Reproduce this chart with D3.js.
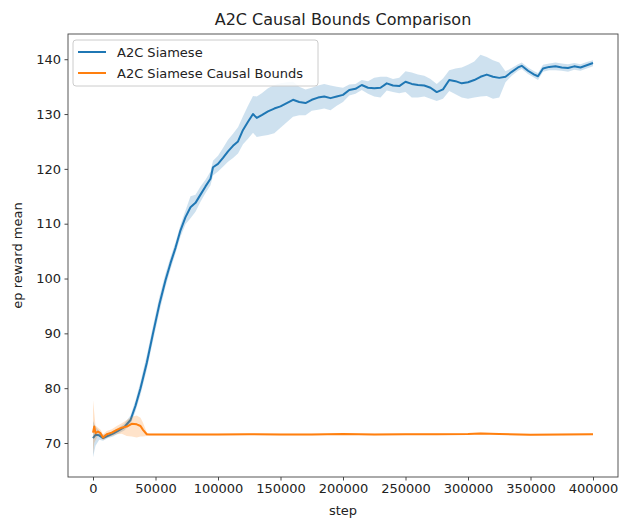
<!DOCTYPE html>
<html lang="en">

<head>
    <meta charset="UTF-8">
    <title>A2C Causal Bounds Comparison</title>
    <script src="https://cdn.jsdelivr.net/npm/d3@7"></script>
</head>
<style>
    * {
        margin: 0;
        padding: 0;
    }

    body {
        background: #fff;
    }

    text {
        font-family: "DejaVu Sans", sans-serif;
    }
</style>

<body>
    <svg></svg>
</body>

</html>
<script>
    // tick labels
    const xTicks = [0, 50000, 100000, 150000, 200000, 250000, 300000, 350000, 400000];
    const yTicks = [70, 80, 90, 100, 110, 120, 130, 140];

    // A2C Siamese (blue)
    const blueSteps = [0, 2000, 5000, 8000, 12000, 16000, 20000, 25000, 30000, 34000, 38000, 43000, 48000, 53000, 58000, 62000, 66000, 70000, 74000, 78000,
        82000, 86000, 90000, 94000, 96000, 100000, 104000, 108000, 112000, 116000, 120000, 124000, 128000, 131000, 135000, 140000, 145000, 150000, 155000, 160000,
        165000, 170000, 175000, 180000, 185000, 190000, 195000, 200000, 205000, 210000, 215000, 220000, 225000, 230000, 235000, 240000, 245000, 250000, 255000, 260000,
        265000, 270000, 275000, 280000, 285000, 290000, 295000, 300000, 305000, 310000, 315000, 320000, 325000, 330000, 335000, 340000, 343000, 348000, 353000, 356000,
        360000, 365000, 370000, 375000, 380000, 385000, 390000, 395000, 400000];
    const blueMean = [70.9, 71.5, 71.4, 70.9, 71.3, 71.7, 72.2, 72.9, 74.2, 76.8, 80.0, 84.6, 90.0, 95.2, 99.7, 102.8, 105.6, 108.8, 111.2, 113.0,
        113.8, 115.3, 116.8, 118.2, 120.3, 120.9, 122.0, 123.2, 124.2, 125.0, 127.1, 128.6, 130.0, 129.3, 129.8, 130.5, 131.0, 131.4, 132.0, 132.6,
        132.2, 132.0, 132.6, 133.0, 133.2, 132.9, 133.2, 133.5, 134.4, 134.6, 135.3, 134.8, 134.7, 134.8, 135.6, 135.2, 135.1, 135.9, 135.5, 135.3,
        135.2, 134.8, 134.0, 134.5, 136.2, 136.0, 135.6, 135.8, 136.2, 136.8, 137.2, 136.8, 136.6, 136.8, 137.7, 138.5, 138.8, 137.9, 137.2, 136.9,
        138.3, 138.6, 138.7, 138.5, 138.4, 138.7, 138.5, 138.9, 139.3];
    const blueLo = [67.4, 69.5, 70.6, 70.4, 70.9, 71.2, 71.7, 72.3, 73.4, 75.8, 78.8, 83.3, 88.6, 93.8, 98.5, 101.7, 104.6, 107.6, 109.9, 111.0,
        112.2, 114.0, 115.6, 117.0, 118.8, 119.5, 120.4, 121.3, 122.0, 122.8, 124.5, 125.5, 126.6, 125.8, 126.0, 126.2, 126.5, 127.5, 128.5, 129.5,
        129.8, 129.8, 130.6, 130.8, 131.0, 130.7, 131.5, 132.2, 133.4, 133.7, 134.4, 133.7, 133.2, 133.0, 134.3, 134.0, 133.8, 134.0, 133.0, 133.0,
        133.2, 132.8, 132.4, 132.8, 134.2, 133.6, 133.0, 132.8, 133.0, 133.2, 133.3, 132.8, 133.0, 135.8, 137.0, 137.9, 138.2, 137.3, 136.6, 136.2,
        137.7, 138.0, 138.0, 137.9, 137.7, 138.1, 137.9, 138.3, 138.7];
    const blueHi = [74.0, 73.0, 72.2, 71.5, 71.8, 72.2, 72.7, 73.5, 75.0, 77.8, 81.2, 86.0, 91.4, 96.6, 100.9, 103.9, 106.6, 109.8, 112.4, 115.0,
        115.3, 116.8, 118.0, 119.5, 121.5, 122.4, 123.8, 125.3, 126.4, 127.6, 129.6, 131.5, 133.3, 133.2, 133.8, 134.7, 135.3, 135.6, 135.8, 135.9,
        135.0, 134.5, 134.8, 135.2, 135.5, 135.2, 135.0, 134.8, 135.4, 135.5, 136.2, 136.0, 136.6, 136.8, 136.8, 136.4, 136.6, 137.8, 137.6, 137.2,
        137.0, 136.4, 135.5, 136.5, 138.0, 138.3, 138.5, 139.0, 139.6, 140.8, 140.4, 139.8, 139.4, 137.8, 138.4, 139.1, 139.4, 138.5, 137.8, 137.5,
        139.0, 139.2, 139.4, 139.2, 139.1, 139.3, 139.1, 139.5, 139.8];

    // A2C Siamese Causal Bounds (orange)
    const orangeSteps = [0, 1000, 2000, 4000, 6000, 8000, 11000, 15000, 19000, 23000, 27000, 31000, 35000, 38000, 40000, 43000, 45000,
        50000, 75000, 100000, 125000, 150000, 175000, 200000, 225000, 250000, 275000, 300000, 310000, 325000, 350000, 375000, 400000];
    const orangeMean = [71.9, 73.0, 71.8, 72.1, 71.8, 71.0, 71.6, 71.9, 72.4, 72.8, 73.0, 73.5, 73.4, 73.1, 72.4, 71.6, 71.55,
        71.55, 71.55, 71.55, 71.6, 71.55, 71.55, 71.65, 71.55, 71.6, 71.6, 71.65, 71.75, 71.65, 71.5, 71.55, 71.6];
    const orangeLo = [68.0, 70.0, 70.5, 71.4, 71.2, 70.5, 71.0, 71.3, 71.6, 71.7, 71.3, 71.2, 71.0, 71.2, 71.2, 71.3, 71.4,
        71.42, 71.42, 71.42, 71.47, 71.42, 71.42, 71.52, 71.42, 71.47, 71.47, 71.52, 71.6, 71.52, 71.37, 71.42, 71.47];
    const orangeHi = [77.8, 75.5, 73.2, 72.8, 72.4, 71.6, 72.2, 72.5, 73.1, 73.6, 74.2, 74.8, 75.0, 74.6, 73.7, 71.9, 71.7,
        71.68, 71.68, 71.68, 71.73, 71.68, 71.68, 71.78, 71.68, 71.73, 71.73, 71.78, 71.9, 71.78, 71.63, 71.68, 71.73];

    const width = 628;
    const height = 519;
    const margin = { left: 68, top: 34, right: 10, bottom: 42 };
    const svg = d3.select('svg').attr('width', width).attr('height', height);

    const xScale = d3.scaleLinear()
        .domain([-20000, 420000])
        .range([margin.left, width - margin.right]);
    const yScale = d3.scaleLinear()
        .domain([63.8, 144.6])
        .range([height - margin.bottom, margin.top]);

    const series = [
        { name: 'A2C Siamese', color: '#1f77b4', steps: blueSteps, mean: blueMean, lo: blueLo, hi: blueHi },
        { name: 'A2C Siamese Causal Bounds', color: '#ff7f0e', steps: orangeSteps, mean: orangeMean, lo: orangeLo, hi: orangeHi }
    ];

    const area = d3.area()
        .x(d => xScale(d.s))
        .y0(d => yScale(d.lo))
        .y1(d => yScale(d.hi));
    const line = d3.line()
        .x(d => xScale(d.s))
        .y(d => yScale(d.m));

    const plot = svg.append('g');
    series.forEach(sr => {
        const rows = sr.steps.map((s, i) => ({ s: s, m: sr.mean[i], lo: sr.lo[i], hi: sr.hi[i] }));
        plot.append('path')
            .datum(rows)
            .attr('d', area)
            .attr('fill', sr.color)
            .attr('fill-opacity', 0.22);
        plot.append('path')
            .datum(rows)
            .attr('d', line)
            .attr('fill', 'none')
            .attr('stroke', sr.color)
            .attr('stroke-width', 2)
            .attr('stroke-linejoin', 'round');
    });

    // axes
    const xAxis = svg.append('g')
        .attr('transform', `translate(0,${height - margin.bottom})`)
        .call(d3.axisBottom(xScale).tickValues(xTicks).tickFormat(d3.format('d')).tickSize(3.5).tickPadding(3.5));
    const yAxis = svg.append('g')
        .attr('transform', `translate(${margin.left},0)`)
        .call(d3.axisLeft(yScale).tickValues(yTicks).tickSize(3.5).tickPadding(3.5));
    [xAxis, yAxis].forEach(ax => {
        ax.select('.domain').remove();
        ax.selectAll('text').attr('font-size', 13).attr('fill', '#222').style('font-family', '"DejaVu Sans", sans-serif');
        ax.selectAll('line').attr('stroke', '#333').attr('stroke-width', 0.9);
    });

    // frame
    svg.append('rect')
        .attr('x', margin.left)
        .attr('y', margin.top)
        .attr('width', width - margin.left - margin.right)
        .attr('height', height - margin.top - margin.bottom)
        .attr('fill', 'none')
        .attr('stroke', '#444')
        .attr('stroke-width', 0.9);

    // titles
    const cx = (margin.left + width - margin.right) / 2;
    svg.append('text')
        .attr('x', cx).attr('y', 25)
        .attr('text-anchor', 'middle')
        .attr('font-size', 16)
        .attr('fill', '#222')
        .text('A2C Causal Bounds Comparison');
    svg.append('text')
        .attr('x', cx).attr('y', 515)
        .attr('text-anchor', 'middle')
        .attr('font-size', 13)
        .attr('fill', '#222')
        .text('step');
    svg.append('text')
        .attr('transform', `translate(22,${(margin.top + height - margin.bottom) / 2}) rotate(-90)`)
        .attr('text-anchor', 'middle')
        .attr('font-size', 13)
        .attr('fill', '#222')
        .text('ep reward mean');

    // legend
    const legend = svg.append('g').attr('transform', 'translate(73,40)');
    legend.append('rect')
        .attr('width', 245).attr('height', 46)
        .attr('rx', 3)
        .attr('fill', '#fff').attr('fill-opacity', 0.85)
        .attr('stroke', '#ccc');
    series.forEach((sr, i) => {
        const yy = 12 + i * 21;
        legend.append('line')
            .attr('x1', 5).attr('x2', 33)
            .attr('y1', yy).attr('y2', yy)
            .attr('stroke', sr.color).attr('stroke-width', 2);
        legend.append('text')
            .attr('x', 44).attr('y', yy + 4.5)
            .attr('font-size', 13)
            .attr('fill', '#222')
            .text(sr.name);
    });
</script>
